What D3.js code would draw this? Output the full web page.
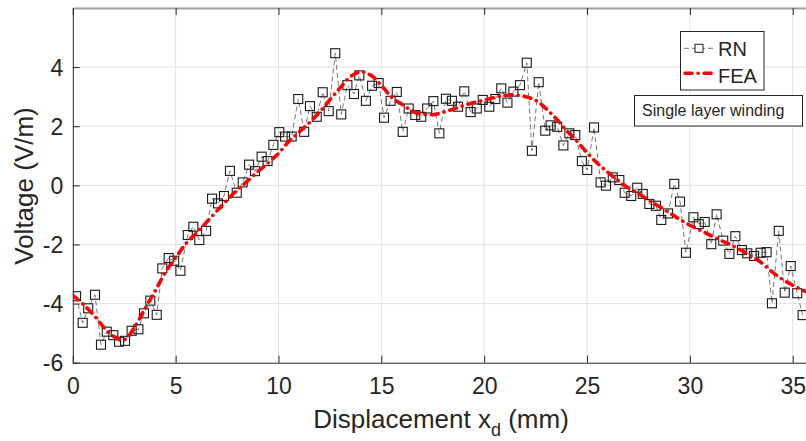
<!DOCTYPE html>
<html><head><meta charset="utf-8">
<script src="https://cdn.jsdelivr.net/npm/d3@7"></script>
<style>
body{margin:0;background:#fff}
svg{display:block}
text{font-family:"Liberation Sans",Arial,Helvetica,sans-serif;fill:#262626}
</style>
</head><body><svg id="c" width="806" height="441"></svg>
<script>
// ---- data ----
const rnX = [0.16,0.48,0.75,1.08,1.37,1.65,1.97,2.25,2.54,2.86,3.19,3.46,3.77,4.08,4.35,4.66,4.93,5.23,5.59,5.86,
  6.15,6.48,6.77,7.06,7.35,7.64,7.97,8.26,8.57,8.86,9.18,9.47,9.75,10.04,10.32,10.64,10.96,11.25,11.53,11.86,
  12.15,12.44,12.76,13.05,13.35,13.67,13.93,14.25,14.55,14.87,15.13,15.45,15.75,16.04,16.33,16.65,16.94,17.23,17.53,17.82,
  18.14,18.43,18.73,19.03,19.34,19.64,19.93,20.25,20.54,20.83,21.13,21.42,21.74,22.07,22.32,22.65,22.97,23.23,23.55,23.85,
  24.14,24.43,24.75,25.01,25.34,25.66,25.92,26.25,26.57,26.83,27.15,27.44,27.71,28.03,28.35,28.61,28.94,29.24,29.52,29.81,
  30.17,30.43,30.72,31.04,31.30,31.62,31.92,32.21,32.53,32.79,33.12,33.44,33.73,33.99,34.32,34.61,34.90,35.22,35.48];
const rnY = [-3.75,-4.65,-4.16,-3.70,-5.39,-4.95,-5.07,-5.29,-5.26,-4.92,
  -4.87,-4.33,-3.90,-4.38,-2.81,-2.46,-2.55,-2.89,-1.68,-1.40,
  -1.85,-1.54,-0.45,-0.61,-0.36,0.49,-0.25,0.10,0.70,0.48,
  0.97,0.82,1.37,1.80,1.65,1.65,2.92,1.81,2.68,2.32,
  3.15,2.51,4.47,2.40,3.39,3.09,3.72,2.86,3.37,3.46,
  2.29,2.86,3.16,1.81,2.60,2.38,2.32,2.60,2.85,1.76,
  2.93,2.86,2.66,3.18,2.48,2.60,2.89,2.66,2.92,3.28,
  2.80,3.17,3.39,4.15,1.17,3.49,1.85,2.03,1.98,1.35,
  1.76,1.70,0.82,0.52,1.96,0.10,-0.01,0.27,0.18,-0.25,
  -0.36,-0.08,-0.29,-0.63,-0.69,-1.17,-0.95,0.05,-0.55,-2.28,
  -1.08,-1.31,-1.24,-1.99,-0.98,-1.87,-2.32,-1.72,-2.19,-2.30,
  -2.39,-2.28,-2.26,-3.99,-1.54,-3.63,-2.73,-3.65,-4.39];
const feaX = [0,0.5,1,1.5,2,2.5,3,3.5,4,4.5,5,5.5,6,6.5,7,7.5,8,8.5,9,9.5,10,10.5,11,11.5,12,12.5,13,13.5,14,14.5,
  15,15.5,16,16.5,17,17.5,18,18.5,19,19.5,20,20.5,21,21.5,22,22.5,23,23.5,24,24.5,25,25.5,26,26.5,27,27.5,28,28.5,29,29.5,
  30,30.5,31,31.5,32,32.5,33,33.5,34,34.5,35,35.5,36];
const feaY = [-3.72,-4.02,-4.38,-4.80,-5.12,-5.22,-4.80,-4.18,-3.58,-2.94,-2.45,-1.97,-1.62,-1.25,-0.87,-0.50,-0.15,0.15,0.47,0.76,
  1.08,1.48,1.80,2.12,2.48,2.90,3.30,3.68,3.84,3.72,3.38,2.98,2.74,2.52,2.41,2.39,2.47,2.58,2.70,2.80,
  2.88,2.97,3.04,3.06,3.00,2.88,2.60,2.25,1.86,1.50,1.10,0.75,0.45,0.17,-0.08,-0.28,-0.50,-0.71,-0.93,-1.15,
  -1.35,-1.52,-1.69,-1.86,-2.02,-2.20,-2.40,-2.63,-2.93,-3.18,-3.38,-3.55,-3.70];
const xTicks = [0,5,10,15,20,25,30,35];
const yTicks = [-6,-4,-2,0,2,4];
const seriesNames = ["RN","FEA"];
const annotationText = "Single layer winding";
const xLabel = ["Displacement x","d"," (mm)"];
const yLabel = "Voltage (V/m)";

// ---- layout ----
const svg = d3.select("#c");
const L = 72.8, R = 813.3, T = 8, B = 362.7;
const x = d3.scaleLinear().domain([0,36]).range([L,R]);
const y = d3.scaleLinear().domain([-6,6]).range([B,T]);
const fmt = d => String(d);   // plain hyphen-minus as in the reference

svg.append("defs").append("clipPath").attr("id","clip")
  .append("rect").attr("x",L).attr("y",T).attr("width",R-L).attr("height",B-T);

// grid
const grid = svg.append("g");
grid.selectAll(".gx").data(xTicks.filter(d=>d>0)).enter().append("line")
  .attr("x1",d=>x(d)).attr("x2",d=>x(d)).attr("y1",T).attr("y2",B)
  .attr("stroke","#e2e2e2").attr("stroke-width",1);
grid.selectAll(".gy").data(yTicks.filter(d=>d>-6)).enter().append("line")
  .attr("x1",L).attr("x2",R).attr("y1",d=>y(d)).attr("y2",d=>y(d))
  .attr("stroke","#e2e2e2").attr("stroke-width",1);

// axes
const axB = svg.append("g").attr("transform",`translate(0,${B})`)
  .call(d3.axisBottom(x).tickValues(xTicks).tickSizeInner(-7).tickSizeOuter(0).tickFormat(fmt));
axB.selectAll("text").attr("y",31.3).attr("dy",null).style("font-size","23px").attr("fill","#262626");
const axT = svg.append("g").attr("transform",`translate(0,${T})`)
  .call(d3.axisTop(x).tickValues(xTicks).tickSizeInner(-7).tickSizeOuter(0).tickFormat(""));
const axL = svg.append("g").attr("transform",`translate(${L},0)`)
  .call(d3.axisLeft(y).tickValues(yTicks).tickSizeInner(-7).tickSizeOuter(0).tickFormat(fmt));
axL.selectAll("text").attr("x",-9.5).attr("dy","0.36em").style("font-size","23px").attr("fill","#262626");
const axR = svg.append("g").attr("transform",`translate(${R},0)`)
  .call(d3.axisRight(y).tickValues(yTicks).tickSizeInner(-7).tickSizeOuter(0).tickFormat(""));
[axB,axL,axR].forEach(a=>{a.selectAll("line").attr("stroke","#262626");a.select(".domain").attr("stroke","#262626");});
axT.selectAll("line").attr("stroke","#262626");
axT.select(".domain").attr("stroke","#a0a0a0").attr("stroke-width",2);
[axB,axT,axL,axR].forEach(a=>a.attr("font-family",null).attr("font-size",null));

// RN series
const data = svg.append("g").attr("clip-path","url(#clip)");
const rn = rnX.map((v,i)=>[v,rnY[i]]);
const fea = feaX.map((v,i)=>[v,feaY[i]]);
data.append("path").datum(rn)
  .attr("d",d3.line().x(d=>x(d[0])).y(d=>y(d[1])))
  .attr("fill","none").attr("stroke","#555").attr("stroke-width",0.8).attr("stroke-dasharray","5,3");
const ms = 9;
data.selectAll(".m").data(rn).enter().append("rect")
  .attr("x",d=>x(d[0])-ms/2).attr("y",d=>y(d[1])-ms/2).attr("width",ms).attr("height",ms)
  .attr("fill","none").attr("stroke","#1a1a1a").attr("stroke-width",1.1);
// FEA series
data.append("path").datum(fea)
  .attr("d",d3.line().curve(d3.curveCatmullRom).x(d=>x(d[0])).y(d=>y(d[1])))
  .attr("fill","none").attr("stroke","#ff0000").attr("stroke-width",3.6)
  .attr("stroke-linecap","round").attr("stroke-dasharray","7,6,0.1,6");

// axis labels
const xl = svg.append("text").attr("x",441).attr("y",427.5).attr("text-anchor","middle").style("font-size","26px");
xl.append("tspan").text(xLabel[0]);
xl.append("tspan").attr("dy",8.5).style("font-size","18px").text(xLabel[1]);
xl.append("tspan").attr("dy",-8.5).text(xLabel[2]);
svg.append("text").attr("transform",`translate(33,186) rotate(-90)`).attr("text-anchor","middle")
  .style("font-size","26px").text(yLabel);

// legend
const lg = svg.append("g");
lg.append("rect").attr("x",680.5).attr("y",31.5).attr("width",83.5).attr("height",58.5)
  .attr("fill","#fff").attr("stroke","#262626").attr("stroke-width",1);
lg.append("line").attr("x1",684).attr("x2",714).attr("y1",48.3).attr("y2",48.3)
  .attr("stroke","#555").attr("stroke-width",0.8).attr("stroke-dasharray","5,3");
lg.append("rect").attr("x",699-4).attr("y",48.3-4).attr("width",8).attr("height",8)
  .attr("fill","#fff").attr("stroke","#1a1a1a").attr("stroke-width",1);
lg.append("text").attr("x",718).attr("y",55.5).style("font-size","20px").text(seriesNames[0]);
lg.append("line").attr("x1",685).attr("x2",714).attr("y1",73.3).attr("y2",73.3)
  .attr("stroke","#ff0000").attr("stroke-width",3.6).attr("stroke-linecap","round").attr("stroke-dasharray","7,6,0.1,6");
lg.append("text").attr("x",718).attr("y",83.3).style("font-size","20px").text(seriesNames[1]);

// annotation box
svg.append("rect").attr("x",634.5).attr("y",95.5).attr("width",168).attr("height",30.5)
  .attr("fill","#fff").attr("stroke","#262626").attr("stroke-width",1);
svg.append("text").attr("x",642).attr("y",115.7).style("font-size","16px").attr("fill","#000").text(annotationText);
</script>
</body></html>
